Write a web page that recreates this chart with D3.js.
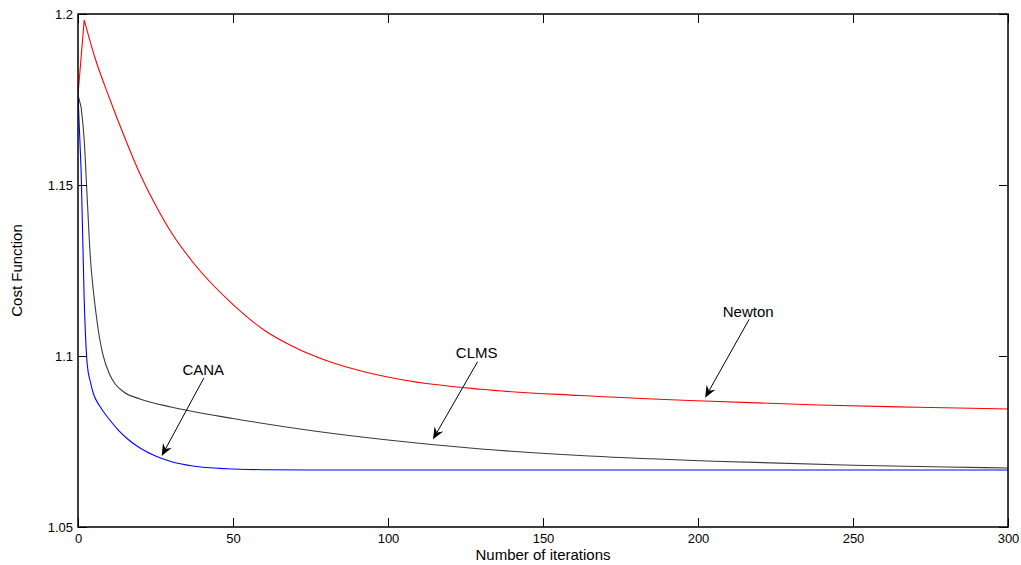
<!DOCTYPE html>
<html>
<head>
<meta charset="utf-8">
<script src="https://cdn.jsdelivr.net/npm/d3@7"></script>
<style>
  html, body { margin: 0; padding: 0; background: #fff; }
  svg { display: block; font-family: "Liberation Sans", Arial, sans-serif; }
</style>
</head>
<body>
<svg id="chart" width="1021" height="565"></svg>
<script>
// ---------- data ----------
const newtonIter = [0, 2, 5.5, 10, 15, 20, 25, 30, 37, 49, 60, 70, 81, 92, 105, 130, 162, 202, 239, 271, 300];
const newtonCost = [1.17632, 1.19825, 1.18713, 1.17573, 1.16404, 1.15322, 1.14415, 1.13626, 1.12749, 1.11588, 1.1076, 1.10249, 1.09839, 1.09547, 1.09298, 1.09026, 1.08845, 1.08684, 1.08567, 1.085, 1.0845];

const clmsIter = [0, 1, 2, 3, 4, 5, 6, 7, 8, 10, 12, 15, 20, 30, 50, 75, 100, 130, 165, 205, 250, 280, 300];
const clmsCost = [1.17632, 1.17281, 1.16316, 1.14561, 1.12865, 1.11871, 1.11111, 1.10497, 1.10058, 1.09503, 1.09181, 1.08933, 1.08743, 1.08509, 1.08173, 1.07822, 1.07544, 1.07281, 1.07076, 1.06924, 1.06807, 1.06754, 1.06725];

const canaIter = [0, 1, 2, 3, 4, 5, 7, 10, 13, 16, 20, 25, 30, 37, 48, 60, 75, 300];
const canaCost = [1.17632, 1.15439, 1.11637, 1.09737, 1.0924, 1.08889, 1.08538, 1.08158, 1.07836, 1.07573, 1.0731, 1.07076, 1.06915, 1.06784, 1.06702, 1.06675, 1.06667, 1.06667];

const xTicks = [0, 50, 100, 150, 200, 250, 300];
const yTicks = [1.05, 1.1, 1.15, 1.2];
const yTickLabels = ["1.05", "1.1", "1.15", "1.2"];

// annotations: label text, label position, arrow tail, arrow tip (data units)
const annLabels = ["CANA", "CLMS", "Newton"];
const annLabelIter = [40.4, 128.6, 216.2];
const annLabelCost = [1.09444, 1.09933, 1.11149];
const annTailIter = [40.6, 128.9, 216.5];
const annTailCost = [1.09357, 1.09833, 1.11073];
const annTipIter = [27.0, 114.5, 202.3];
const annTipCost = [1.07076, 1.07564, 1.0878];

// ---------- layout ----------
const svg = d3.select("#chart");
const margin = { left: 78, top: 14, right: 13, bottom: 38 };
const W = 1021 - margin.left - margin.right;   // 930
const H = 565 - margin.top - margin.bottom;    // 513

const x = d3.scaleLinear().domain([0, 300]).range([0, W]);
const y = d3.scaleLinear().domain([1.05, 1.2]).range([H, 0]);

const g = svg.append("g").attr("transform", `translate(${margin.left},${margin.top})`);

// ---------- series ----------
// piecewise: first step drawn straight (sharp start / peak), rest smooth
const lineSmooth = d3.line().x(d => x(d[0])).y(d => y(d[1])).curve(d3.curveMonotoneX);
const lineStraight = d3.line().x(d => x(d[0])).y(d => y(d[1]));
const series = [
  { it: newtonIter, c: newtonCost, color: "#ff0000" },
  { it: clmsIter,   c: clmsCost,   color: "#3a3a3a" },
  { it: canaIter,   c: canaCost,   color: "#0000ff" }
];
svg.append("defs").append("clipPath").attr("id", "clip")
  .append("rect").attr("width", W).attr("height", H);
series.forEach(s => {
  const pts = s.it.map((v, i) => [v, s.c[i]]);
  const d = lineStraight(pts.slice(0, 2)) + lineSmooth(pts.slice(1)).replace(/^M/, "L");
  g.append("path")
    .attr("clip-path", "url(#clip)")
    .attr("fill", "none")
    .attr("stroke", s.color)
    .attr("stroke-width", 1.1)
    .attr("stroke-linejoin", "miter")
    .attr("d", d);
});

// ---------- axes (MATLAB box style, ticks inward on all sides) ----------
const tl = 9;
const fmtY = d => yTickLabels[yTicks.indexOf(d)];
const axB = g.append("g").attr("transform", `translate(0,${H})`)
  .call(d3.axisBottom(x).tickValues(xTicks).tickSizeInner(-tl).tickSizeOuter(0).tickPadding(7));
const axT = g.append("g")
  .call(d3.axisTop(x).tickValues(xTicks).tickSizeInner(-tl).tickSizeOuter(0).tickFormat(""));
const axL = g.append("g")
  .call(d3.axisLeft(y).tickValues(yTicks).tickSizeInner(-tl).tickSizeOuter(0).tickPadding(5).tickFormat(fmtY));
const axR = g.append("g").attr("transform", `translate(${W},0)`)
  .call(d3.axisRight(y).tickValues(yTicks).tickSizeInner(-tl).tickSizeOuter(0).tickFormat(""));
[axB, axT, axL, axR].forEach(a => {
  a.select(".domain").remove();
  a.selectAll(".tick line").attr("stroke", "#000").attr("stroke-width", 1);
  a.selectAll(".tick text").attr("fill", "#000").style("font-size", "13px")
    .style("font-family", "'Liberation Sans', Arial, sans-serif");
});
axL.selectAll(".tick text").attr("dy", "0.36em");

g.append("rect").attr("x", 0).attr("y", 0).attr("width", W).attr("height", H)
  .attr("fill", "none").attr("stroke", "#000").attr("stroke-width", 1.5);

// axis titles
svg.append("text")
  .attr("x", margin.left + W / 2).attr("y", 560)
  .attr("text-anchor", "middle").style("font-size", "15px").text("Number of iterations");
svg.append("text")
  .attr("transform", `translate(22,${margin.top + H / 2}) rotate(-90)`)
  .attr("text-anchor", "middle").style("font-size", "15px").text("Cost Function");

// ---------- annotations ----------
annLabels.forEach((lab, i) => {
  g.append("text")
    .attr("x", x(annLabelIter[i])).attr("y", y(annLabelCost[i]))
    .attr("text-anchor", "middle").style("font-size", "15px").attr("fill", "#000")
    .text(lab);
  const x1 = x(annTailIter[i]), y1 = y(annTailCost[i]);
  const x2 = x(annTipIter[i]), y2 = y(annTipCost[i]);
  const ang = Math.atan2(y2 - y1, x2 - x1);
  const hl = 12, hw = 5, nb = 8;
  const ux = Math.cos(ang), uy = Math.sin(ang);
  const px = -uy, py = ux;
  g.append("line")
    .attr("x1", x1).attr("y1", y1)
    .attr("x2", x2 - ux * nb).attr("y2", y2 - uy * nb)
    .attr("stroke", "#000").attr("stroke-width", 1);
  const pts = [
    [x2, y2],
    [x2 - ux * hl + px * hw, y2 - uy * hl + py * hw],
    [x2 - ux * nb, y2 - uy * nb],
    [x2 - ux * hl - px * hw, y2 - uy * hl - py * hw]
  ];
  g.append("path").attr("d", "M" + pts.map(p => p.join(",")).join("L") + "Z")
    .attr("fill", "#000").attr("stroke", "none");
});
</script>
</body>
</html>
